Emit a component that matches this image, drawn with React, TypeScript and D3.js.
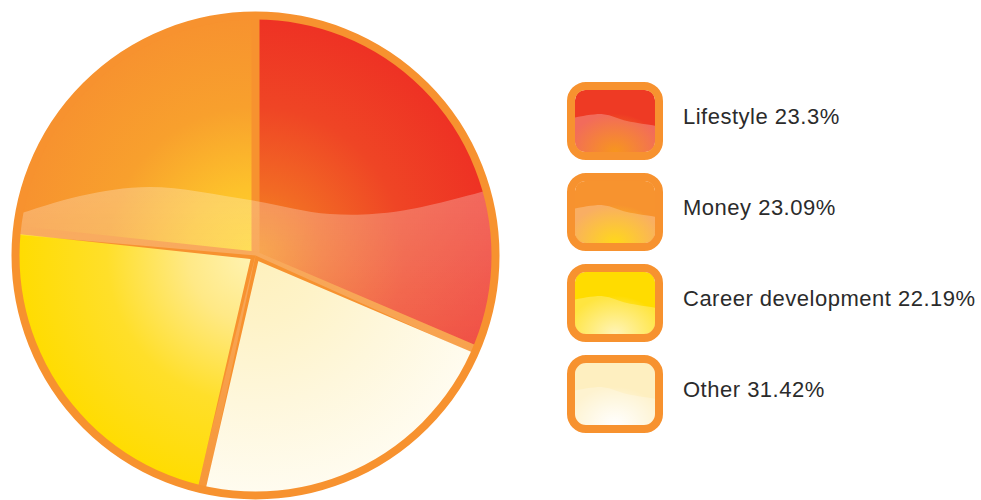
import React from "react";
import * as d3 from "d3";

const categories = ["Lifestyle", "Money", "Career development", "Other"];
const values = [23.3, 23.09, 22.19, 31.42];
const labels = ["Lifestyle 23.3%", "Money 23.09%", "Career development 22.19%", "Other 31.42%"];
// slice colours as drawn (counter-clockwise from 12 o'clock)
const sliceStops: string[][] = [
  ["#FFD62A", "#FDC22B", "#F8A02D", "#F7922F"],
  ["#FFF3B4", "#FFE986", "#FFDF2A", "#FFDC00"],
  ["#FEF0BC", "#FEF3C8", "#FEF7DC", "#FFFCF0"],
  ["#F6901E", "#F26A24", "#EF4525", "#EE3124"],
];
const sliceOverlay = [true, false, false, true];
// legend swatch colours (base, glow)
const legendBase = ["#EE3A24", "#F7932F", "#FFDC00", "#FEEFC0"];
const legendGlow = ["#F7961E", "#FFD81A", "#FFF4B8", "#FFFFFF"];

const W = 981, H = 500;
const cx = 255.5, cy = 255.5, R = 240;
const ORANGE = "#F7922F";

export default function App() {
  const pie = d3.pie<number>().sort(null).value((d) => d).startAngle(0).endAngle(-2 * Math.PI);
  const arcs = pie(values);
  const arc = d3.arc<d3.PieArcDatum<number>>().innerRadius(0).outerRadius(R);
  const padArc = d3.arc<d3.PieArcDatum<number>>().innerRadius(0).outerRadius(R).padAngle(0.04).padRadius(R);

  const waveLine = d3.line<[number, number]>().curve(d3.curveCatmullRom.alpha(0.5));
  const wavePts: [number, number][] = [
    [-10, 222], [12, 216], [80, 196], [150, 187], [250, 200], [330, 214], [400, 211], [510, 184],
  ];
  const waveD = waveLine(wavePts) + ` L510,${H + 10} L-10,${H + 10} Z`;

  const ys = d3.scalePoint<string>().domain(categories).range([121, 394]);
  const bx = 567, bw = 96, bh = 78;
  const ix = bx + 8, iw = bw - 16, ih = bh - 16;

  return (
    <svg width={W} height={H} style={{ position: "absolute", left: 0, top: 0 }}>
      <defs>
        {sliceStops.map((s, i) => (
          <radialGradient key={i} id={`sg${i}`} gradientUnits="userSpaceOnUse" cx={0} cy={0} r={R}>
            <stop offset="0" stopColor={s[0]} />
            <stop offset="0.28" stopColor={s[1]} />
            <stop offset="0.62" stopColor={s[2]} />
            <stop offset="1" stopColor={s[3]} />
          </radialGradient>
        ))}
        <linearGradient id="ovl" gradientUnits="userSpaceOnUse" x1="0" y1="185" x2="0" y2="500">
          <stop offset="0" stopColor="#fff" stopOpacity={0.27} />
          <stop offset="1" stopColor="#fff" stopOpacity={0.04} />
        </linearGradient>
        <clipPath id="pieClip">
          <circle cx={cx} cy={cy} r={R} />
        </clipPath>
        <mask id="ovMask" maskUnits="userSpaceOnUse" x={0} y={0} width={W} height={H}>
          <rect x={0} y={0} width={W} height={H} fill="#fff" />
          <g transform={`translate(${cx},${cy})`}>
            {arcs.map((a, i) => (!sliceOverlay[i] ? <path key={i} d={padArc(a) || ""} fill="#000" /> : null))}
          </g>
        </mask>
        {categories.map((c, i) => {
          const y0 = (ys(c) as number) - bh / 2 + 8;
          return (
            <React.Fragment key={c}>
              <clipPath id={`lc${i}`}>
                <rect x={ix} y={y0} width={iw} height={ih} rx={10} />
              </clipPath>
              <radialGradient id={`lg${i}`} gradientUnits="userSpaceOnUse" cx={ix + iw / 2} cy={y0 + ih} r={iw * 0.6}
                gradientTransform={`translate(0 ${y0 + ih}) scale(1 0.8) translate(0 ${-(y0 + ih)})`}>
                <stop offset="0" stopColor={legendGlow[i]} stopOpacity={1} />
                <stop offset="1" stopColor={legendGlow[i]} stopOpacity={0} />
              </radialGradient>
            </React.Fragment>
          );
        })}
      </defs>

      {/* pie */}
      <g transform={`translate(${cx},${cy})`}>
        {arcs.map((a, i) => (
          <path key={i} d={arc(a) || ""} fill={`url(#sg${i})`} />
        ))}
        {arcs.map((a, i) => (
          <line key={i} x1={0} y1={0} x2={(R - 4) * Math.sin(a.startAngle)} y2={-(R - 4) * Math.cos(a.startAngle)}
            stroke={ORANGE} strokeWidth={8} strokeLinecap="round" />
        ))}
      </g>
      <path d={waveD} fill="url(#ovl)" clipPath="url(#pieClip)" mask="url(#ovMask)" />
      <circle cx={cx} cy={cy} r={R} fill="none" stroke={ORANGE} strokeWidth={8} />

      {/* legend */}
      {categories.map((c, i) => {
        const yc = ys(c) as number;
        const y0 = yc - bh / 2 + 8;
        const wl = waveLine([
          [ix - 2, y0 + ih * 0.45], [ix + iw * 0.35, y0 + ih * 0.39], [ix + iw * 0.65, y0 + ih * 0.5], [ix + iw + 2, y0 + ih * 0.58],
        ]);
        const wd = `${wl} L${ix + iw + 2},${y0 + ih + 2} L${ix - 2},${y0 + ih + 2} Z`;
        return (
          <g key={c}>
            <g clipPath={`url(#lc${i})`}>
              <rect x={ix} y={y0} width={iw} height={ih} fill={legendBase[i]} />
              <path d={wd} fill="#fff" fillOpacity={0.25} />
              <rect x={ix} y={y0} width={iw} height={ih} fill={`url(#lg${i})`} />
            </g>
            <rect x={bx + 4} y={yc - bh / 2 + 4} width={bw - 8} height={bh - 8} rx={15} fill="none" stroke={ORANGE} strokeWidth={8} />
            <text x={683} y={yc + 3} fontFamily="'Liberation Sans', Arial, sans-serif" fontSize={22} letterSpacing={0.5} fill="#2b2b2b">
              {labels[i]}
            </text>
          </g>
        );
      })}
    </svg>
  );
}
